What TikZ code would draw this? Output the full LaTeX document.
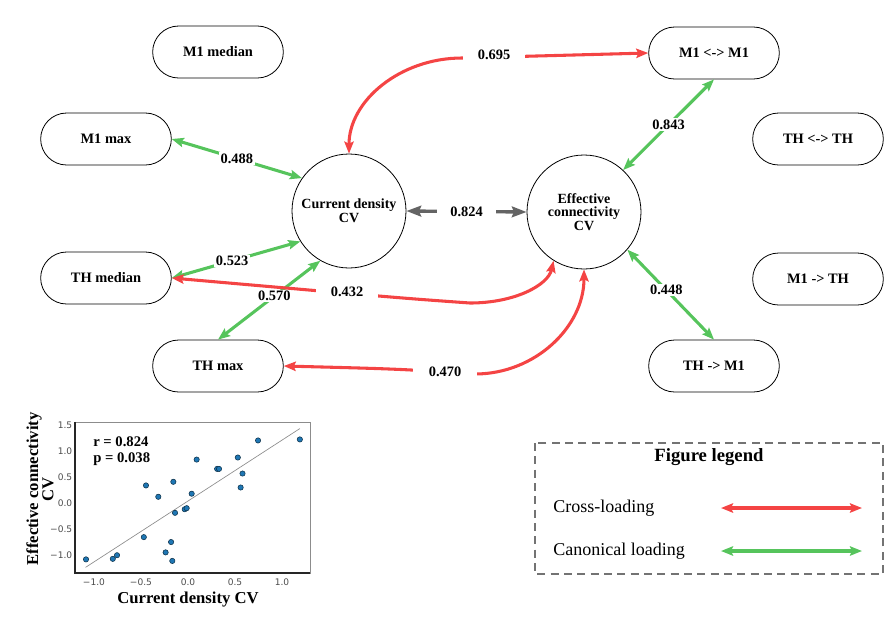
\documentclass[tikz,border=0pt]{standalone}
\usepackage{fontspec}
\setmainfont{Liberation Serif}
\newfontfamily\tickfont{DejaVu Sans}
\usetikzlibrary{arrows.meta}

\definecolor{loadred}{RGB}{244,68,68}
\definecolor{loadgreen}{RGB}{86,196,92}
\definecolor{linkgray}{RGB}{100,100,100}
\definecolor{dotblue}{RGB}{31,119,180}

\begin{document}
\begin{tikzpicture}[x=0.75pt,y=-0.75pt,
  var/.style={draw=black, line width=0.6pt, rounded corners=19.5pt,
    minimum width=98pt, minimum height=39pt,
    font=\fontsize{10.8}{12}\selectfont\bfseries},
  latent/.style={draw=black, line width=0.6pt, circle, minimum size=85.5pt,
    inner sep=0pt, align=center, font=\fontsize{10.5}{10.2}\selectfont\bfseries},
  tipshape/.style={Stealth[length=9pt,width=7pt,inset=1.5pt]},
  cross/.style={draw=loadred, line width=2.3pt,
    {Stealth[length=9pt,width=7pt,inset=1.5pt]}-{Stealth[length=9pt,width=7pt,inset=1.5pt]}},
  canon/.style={draw=loadgreen, line width=2.3pt,
    {Stealth[length=9pt,width=7pt,inset=1.5pt]}-{Stealth[length=9pt,width=7pt,inset=1.5pt]}},
  corr/.style={draw=linkgray, line width=2.5pt,
    {Stealth[length=11pt,width=8pt,inset=1.5pt]}-{Stealth[length=11pt,width=8pt,inset=1.5pt]}},
  glbl/.style={fill=white, inner xsep=1.5pt, inner ysep=1pt,
    font=\fontsize{10.8}{12}\selectfont\bfseries},
  rlbl/.style={fill=white, inner xsep=9pt, inner ysep=1pt,
    font=\fontsize{10.8}{12}\selectfont\bfseries},
  ticklbl/.style={font=\tickfont\fontsize{6.8}{8}\selectfont, text=black!70, inner sep=1pt},
  dot/.style={fill=dotblue, draw=black!60!dotblue, line width=0.4pt},
]
\useasboundingbox (0,0) rectangle (896,619);

% observed variables
\node[var] (m1med) at (218,52)  {M1 median};
\node[var] (m1max) at (106,139) {M1 max};
\node[var] (thmed) at (106,278) {TH median};
\node[var] (thmax) at (218,366) {TH max};
\node[var] (m1m1)  at (714,53)  {M1 <-> M1};
\node[var] (thth)  at (818,139) {TH <-> TH};
\node[var] (m1th)  at (818,279) {M1 -> TH};
\node[var] (thm1)  at (714,366) {TH -> M1};

% canonical variates
\node[latent] (cd)  at (349,211) {Current density\\CV};
\node[latent] (eff) at (584,212) {Effective\\connectivity\\CV};

% canonical correlation
\draw[corr] (cd.east) -- node[rlbl, inner xsep=10pt] (l824) {0.824} (eff.west);

% canonical loadings
\draw[canon] (m1max.east) -- node[glbl] (l488) {0.488} (cd.145);
\draw[canon] (thmed.east) -- node[glbl, pos=0.47] (l523) {0.523} (cd.212);
\draw[canon] (thmax.north) -- node[glbl, pos=0.55] (l570) {0.570} (cd.240);
\draw[canon] (eff.47) -- node[glbl] (l843) {0.843} (m1m1.south);
\draw[canon] (eff.319) -- node[glbl, pos=0.45] (l448) {0.448} (thm1.north);

% cross-loadings
\draw[cross] (cd.north) .. controls (349,101) and (400,58) .. (462,58) -- (m1m1.west);
\node[rlbl, inner xsep=11pt] (l695) at (494,55) {0.695};

\draw[cross] (thmed.east) .. controls (400,298) .. (470,303)
  .. controls (515,303) and (548,285) .. (eff.238);
\node[rlbl, inner xsep=11pt] (l432) at (347,292) {0.432};

\draw[cross] (thmax.east) .. controls (400,369) .. (475,374)
  .. controls (535,374) and (584,327) .. (eff.south);
\node[rlbl, inner xsep=12pt] (l470) at (445,372) {0.470};

% scatter plot of the two canonical variates
\begin{scope}[xshift=141pt, yshift=-377.25pt, x=70.5pt, y=38.775pt]
  \draw[black!45, line width=0.6pt] (-1.202,-1.354) -- (1.298,-1.354) -- (1.298,1.567) -- (-1.202,1.567) -- cycle;
  \draw[black!85, line width=0.8pt] (-1.202,1.567) -- (-1.202,-1.354) -- (1.298,-1.354);
  \draw[black!45, line width=0.5pt] (-1.09,-1.245) -- (1.19,1.44);
  \foreach \px/\py in {-1.085/-1.09, -0.80/-1.08, -0.755/-1.01, -0.47/-0.66,
      -0.447/0.34, -0.316/0.12, -0.238/-0.955, -0.18/-0.755, -0.167/-1.12,
      -0.156/0.41, -0.138/-0.19, -0.035/-0.12, -0.014/-0.10, 0.039/0.18,
      0.092/0.84, 0.31/0.66, 0.33/0.66, 0.53/0.88, 0.56/0.30, 0.58/0.57,
      0.745/1.21, 1.19/1.23}
    \fill[dot] (\px,\py) circle[radius=2pt];
  \foreach \v/\t in {-1/−1.0, -0.5/−0.5, 0/0.0, 0.5/0.5, 1/1.0}
    \node[ticklbl] at (\v,-1.53) {\t};
  \foreach \v/\t in {-1/−1.0, -0.5/−0.5, 0/0.0, 0.5/0.5, 1/1.0, 1.5/1.5}
    \node[ticklbl, anchor=east] at (-1.215,\v) {\t};
\end{scope}
\node[font=\fontsize{11}{12}\selectfont\bfseries, align=left, anchor=north west, inner sep=0pt]
  (stats) at (93,436) {r = 0.824\\p = 0.038};
\node[font=\fontsize{12.5}{11.5}\selectfont\bfseries, rotate=90, align=center]
  (ylab) at (40,489) {Effective connectivity\\CV};
\node[font=\fontsize{12.5}{14}\selectfont\bfseries] (xlab) at (188,600) {Current density CV};

% legend
\draw[black!55, line width=0.8pt, dash pattern=on 6pt off 4pt] (535,443) rectangle (883,574);
\node[font=\fontsize{14}{16}\selectfont\bfseries] (legtitle) at (709,457) {Figure legend};
\node[font=\fontsize{13.5}{16}\selectfont, anchor=west, inner sep=0pt] (legcross) at (553,508) {Cross-loading};
\node[font=\fontsize{13.5}{16}\selectfont, anchor=west, inner sep=0pt] (legcanon) at (553,551) {Canonical loading};
\coordinate (crossA) at (721,508);
\coordinate (crossB) at (862,508);
\coordinate (canonA) at (721,551);
\coordinate (canonB) at (862,551);
\draw[cross] (crossA) -- (crossB);
\draw[canon] (canonA) -- (canonB);
\end{tikzpicture}
\end{document}
